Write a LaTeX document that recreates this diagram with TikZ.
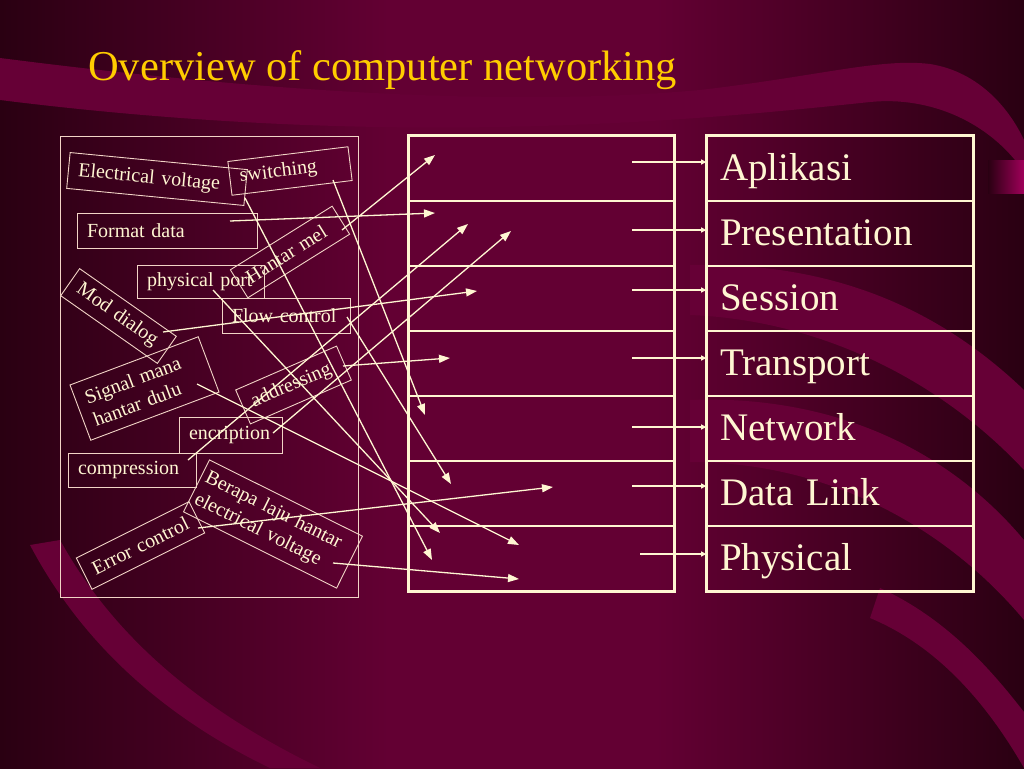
\documentclass[tikz,border=0pt]{standalone}
\usepackage{fontspec}
\setmainfont{Liberation Serif}
\usepackage{tikz}
\usetikzlibrary{arrows.meta,calc}
\definecolor{bgdark}{HTML}{2A0012}
\definecolor{bgmid}{HTML}{630033}
\definecolor{band}{HTML}{660036}
\definecolor{tabc}{HTML}{A0005A}
\definecolor{cream}{HTML}{FFF6D2}
\definecolor{edge}{HTML}{F2D4C6}
\definecolor{gold}{HTML}{FFCC00}
\pgfdeclarehorizontalshading{slidebg}{100bp}{color(0bp)=(bgdark); color(25bp)=(bgdark);
  color(44bp)=(bgmid); color(57bp)=(bgmid); color(75bp)=(bgdark); color(100bp)=(bgdark)}

\begin{document}
\begin{tikzpicture}[x=1pt,y=-1pt,
  lbl/.style={draw=edge,line width=0.9pt,text=cream,font=\fontsize{20}{24}\selectfont,
    align=left,inner xsep=10pt,inner ysep=0pt},
  row/.style={draw=cream,line width=1.6pt,minimum width=265pt,minimum height=65pt,inner sep=0pt},
  layer/.style={draw=cream,line width=1.6pt,text=cream,font=\fontsize{39}{44}\selectfont,
    text width=240pt,align=left,inner xsep=13pt,inner ysep=0pt,minimum height=65pt,
    text height=28pt,text depth=5pt},
  link/.style={draw=cream,line width=1.3pt,-{Triangle[length=11pt,width=8pt]}},
  pin/.style={draw=cream,line width=1.2pt,-{Triangle[length=5pt,width=5pt]}}]
  \useasboundingbox (0,0) rectangle (1024,768);
  % background and swooshes
  \shade[shading=slidebg] (0,0) rectangle (1024,768);
  \fill[band] (0,58) .. controls (250,90) and (500,108) .. (700,90)
     .. controls (820,76) and (880,58) .. (930,64) .. controls (980,72) and (1010,110) .. (1024,140)
     -- (1024,172) .. controls (990,122) and (930,96) .. (870,102)
     .. controls (700,120) and (400,150) .. (0,100) -- cycle;
  \fill[band] (30,545) .. controls (80,640) and (160,715) .. (270,768) -- (320,768)
     .. controls (190,705) and (110,630) .. (60,540) -- cycle;
  \fill[band] (690,265) .. controls (820,262) and (930,300) .. (1024,390) -- (1024,470)
     .. controls (940,380) and (820,320) .. (690,315) -- cycle;
  \fill[band] (690,400) .. controls (820,395) and (940,440) .. (1024,540) -- (1024,620)
     .. controls (940,520) and (820,462) .. (690,462) -- cycle;
  \fill[band] (880,588) .. controls (950,620) and (995,675) .. (1024,712) -- (1024,768)
     .. controls (985,700) and (935,645) .. (870,618) -- cycle;
  \shade[left color=bgdark,right color=tabc] (988,160) rectangle (1024,193);
  % title
  \node[anchor=base west,inner sep=0pt,text=gold,font=\fontsize{42.5}{50}\selectfont] (title)
    at (88,80) {Overview of computer networking};
  % left box with the jumbled functions
  \node[draw=edge,line width=0.9pt,minimum width=298pt,minimum height=461pt,inner sep=0pt]
    (lbox) at (209,366.5) {};
  \node[lbl,rotate=-5.5,text width=158pt,minimum height=36pt] (ev) at (157,179) {Electrical voltage};
  \node[lbl,rotate=7,text width=101pt,minimum height=34pt] (sw) at (290,171) {switching};
  \node[lbl,text width=160pt,minimum height=35pt] (fd) at (167,230.5) {Format data};
  \node[lbl,rotate=32,text width=100pt,minimum height=33pt] (hm) at (290,252) {Hantar mel};
  \node[lbl,text width=107pt,minimum height=33pt] (pp) at (200.5,281.5) {physical port};
  \node[lbl,rotate=-35,text width=98pt,minimum height=33pt] (md) at (118.5,316) {Mod dialog};
  \node[lbl,text width=108pt,minimum height=35pt] (fc) at (286,315.5) {Flow control};
  \node[lbl,rotate=20.6,text width=117pt,minimum height=59pt] (sm) at (144.5,388.5) {Signal mana\\hantar dulu};
  \node[lbl,rotate=23.5,text width=90pt,minimum height=37pt] (ad) at (293.5,385) {addressing};
  \node[lbl,text width=83pt,minimum height=36pt] (en) at (230.5,435) {encription};
  \node[lbl,text width=108pt,minimum height=34pt] (cp) at (132,470) {compression};
  \node[lbl,rotate=-26.5,inner xsep=5pt,text width=161pt,minimum height=58pt] (bl) at (273,524)
    {Berapa laju hantar\\electrical voltage};
  \node[lbl,rotate=26.6,text width=106pt,minimum height=35pt] (er) at (140.5,545.5) {Error control};
  % middle box
  \foreach \i in {1,...,7}
    \node[row] (m\i) at (541.5,{168.5+65*(\i-1)}) {};
  \draw[cream,line width=3pt] (m1.north west) rectangle (m7.south east);
  % OSI layers
  \foreach \t [count=\i] in {Aplikasi,Presentation,Session,Transport,Network,Data Link,Physical}
    \node[layer] (r\i) at (840,{168.5+65*(\i-1)}) {\t};
  \draw[cream,line width=3pt] (r1.north west) rectangle (r7.south east);
  \foreach \x/\y [count=\i] in {632/162,632/230,632/290,632/358,632/427,632/486,640/554}{
    \coordinate (p\i) at (\x,\y);
    \draw[pin] (p\i) -- (p\i -| r\i.west);}
  % functions to layers
  \foreach \n/\s/\e in {ev/{245,198}/{432,560}, sw/{333,180}/{425,415}, fd/{230,221}/{435,213},
      hm/{342,230}/{435,155}, pp/{213,290}/{440,533}, md/{163,332}/{477,291},
      fc/{347,317}/{451,484}, sm/{197,384}/{519,545}, ad/{343,366}/{450,358},
      en/{273,433}/{511,231}, cp/{188,460}/{468,224}, er/{198,528}/{553,487},
      bl/{333,563}/{519,579}}{
    \coordinate (\n-s) at (\s);
    \coordinate (\n-e) at (\e);
    \draw[link] (\n-s) -- (\n-e);}
\end{tikzpicture}
\end{document}
